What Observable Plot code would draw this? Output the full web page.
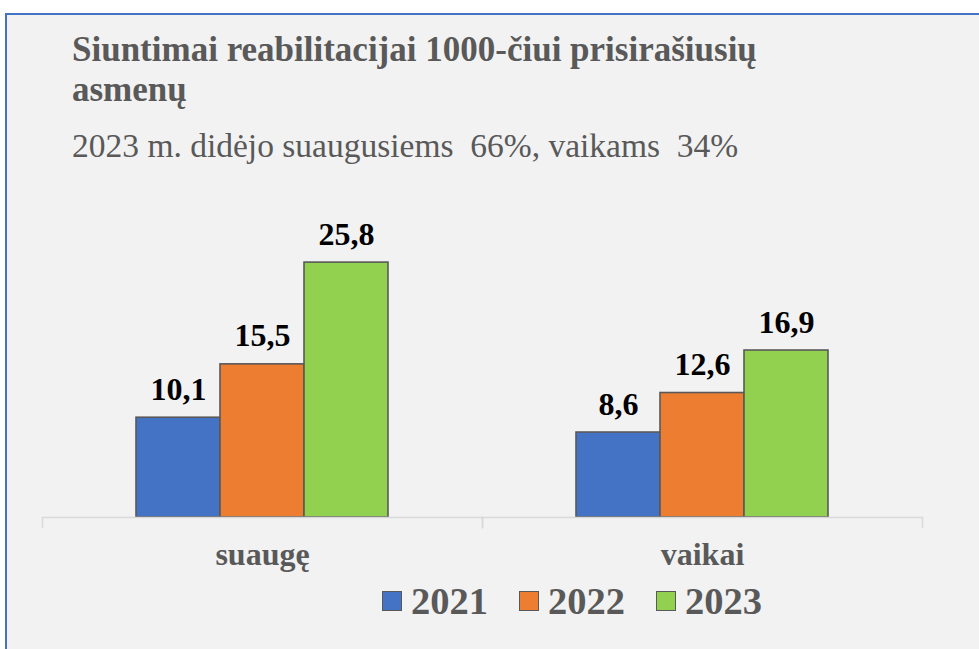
<!DOCTYPE html>
<html><head><meta charset="utf-8">
<script src="https://cdn.jsdelivr.net/npm/d3@7"></script>
<script src="https://cdn.jsdelivr.net/npm/@observablehq/plot@0.6"></script>
<style>
html,body{margin:0;padding:0;background:#fff;}
#wrap{position:relative;width:979px;height:649px;overflow:hidden;}
#card{position:absolute;left:5px;top:13px;width:990px;height:660px;background:#f2f2f2;border:2px solid #4472c4;box-sizing:border-box;}
.t{position:absolute;font-family:"Liberation Serif","Times New Roman",serif;color:#595959;white-space:nowrap;}
#title{left:72px;top:30px;font-size:35px;font-weight:bold;line-height:40px;}
#sub{left:72px;top:127px;font-size:33.5px;line-height:normal;}
#chart{position:absolute;left:0;top:190px;}
#legend{position:absolute;left:382px;top:581px;display:flex;font-family:"Liberation Serif",serif;font-weight:bold;font-size:38.5px;line-height:40px;color:#595959;}
.li{display:flex;align-items:center;margin-right:31px;}
.sw{width:18px;height:18px;border:1.5px solid #595959;margin-right:9px;}
</style></head>
<body><div id="wrap"><div id="card"></div>
<div class="t" id="title">Siuntimai reabilitacijai 1000-čiui prisirašiusių<br>asmenų</div>
<div class="t" id="sub">2023 m. didėjo suaugusiems&nbsp; 66%, vaikams&nbsp; 34%</div>
<div id="chart"></div>
<div id="legend"></div>
</div>
<script>
const groups = ["suaugę", "vaikai"];
const years = ["2021", "2022", "2023"];
const adults = [10.1, 15.5, 25.8];
const children = [8.6, 12.6, 16.9];
const colors = ["#4472c4", "#ed7d31", "#92d050"];

const data = [];
years.forEach((y, i) => { data.push({group: groups[0], year: y, value: adults[i]}); });
years.forEach((y, i) => { data.push({group: groups[1], year: y, value: children[i]}); });

const fmt = v => d3.format(".1f")(v).replace(".", ",");
const H = 459, mb = 132, mt = 30.6;
const plotH = H - mt - mb;

const chart = Plot.plot({
  width: 979, height: H,
  marginLeft: 42, marginRight: 57, marginTop: mt, marginBottom: mb,
  style: {background: "transparent", fontFamily: "Liberation Serif, serif", overflow: "visible"},
  fx: {domain: groups, padding: 0, label: null},
  x: {domain: years, paddingInner: 0, paddingOuter: 1.09, axis: null},
  y: {domain: [0, 30], axis: null},
  color: {domain: years, range: colors},
  marks: [
    Plot.barY(data, {fx: "group", x: "year", y: "value", fill: "year", stroke: "#595959", strokeWidth: 1.6}),
    Plot.text(data, {fx: "group", x: "year", y: "value", text: d => fmt(d.value), dy: -18, lineAnchor: "bottom",
      fontSize: 32, fontWeight: "bold", fill: "#000"}),
    Plot.ruleY([0], {stroke: "#d9d9d9", strokeWidth: 1.6}),
    Plot.frame({anchor: "left", stroke: "#d9d9d9", strokeWidth: 1.6, insetTop: plotH, insetBottom: -10}),
    Plot.frame({anchor: "right", stroke: "#d9d9d9", strokeWidth: 1.6, insetTop: plotH, insetBottom: -10}),
    Plot.axisFx({anchor: "bottom", tickSize: 0, tickPadding: 25, fontSize: 32, fontWeight: "bold", fill: "#595959", label: null})
  ]
});
document.getElementById("chart").appendChild(chart);

const leg = d3.select("#legend");
years.forEach((y, i) => {
  const it = leg.append("div").attr("class", "li");
  it.append("div").attr("class", "sw").style("background", colors[i]);
  it.append("span").text(y);
});
</script></body></html>
